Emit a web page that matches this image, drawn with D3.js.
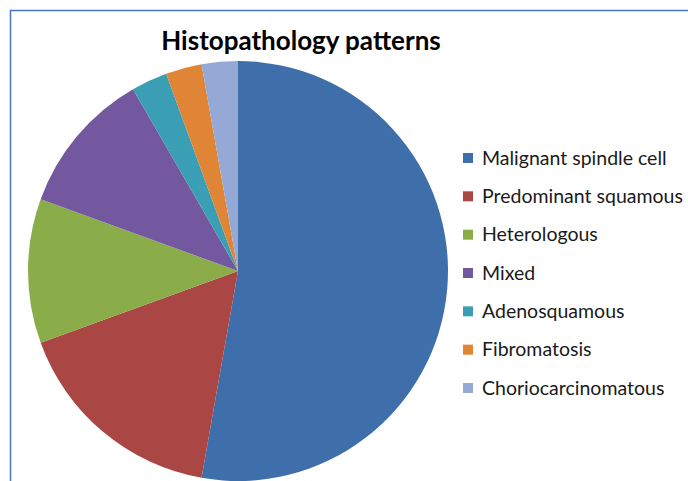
<!DOCTYPE html>
<html>
<head>
<meta charset="utf-8">
<script src="https://cdn.jsdelivr.net/npm/d3@7"></script>
<style>
  body { margin: 0; background: #fff; }
  svg { display: block; }
</style>
</head>
<body>
<div id="chart"></div>
<script>
// chart data (case counts)
var categories = ["Malignant spindle cell", "Predominant squamous", "Heterologous",
  "Mixed", "Adenosquamous", "Fibromatosis", "Choriocarcinomatous"];
var counts = [19, 6, 4, 4, 1, 1, 1];
var colors = ["#3F6FAA", "#AA4644", "#8AAD4A", "#73579F", "#3A9EB5", "#E08436", "#94A9D6"];

var svgWidth = 688;
var svgHeight = 481;

var svg = d3.select("#chart")
  .append("svg")
  .attr("width", svgWidth)
  .attr("height", svgHeight);

// outer frame, only top and left edges show in the crop
svg.append("path")
  .attr("d", "M10.5," + svgHeight + " V10.5 H" + svgWidth)
  .attr("fill", "none")
  .attr("stroke", "#4A74C4")
  .attr("stroke-width", 1.5);

// title
svg.append("text")
  .attr("x", 301)
  .attr("y", 50)
  .attr("text-anchor", "middle")
  .attr("font-family", "Lato, 'Open Sans', sans-serif")
  .attr("font-weight", "bold")
  .attr("font-size", "26px")
  .attr("fill", "#000")
  .text("Histopathology patterns");

// pie
var radius = 210;
var pieGroup = svg.append("g")
  .attr("transform", "translate(238, 271)");

var pie = d3.pie().sort(null).value(d => d);
var arc = d3.arc().innerRadius(0).outerRadius(radius);

var color = d3.scaleOrdinal().domain(categories).range(colors);

pieGroup.selectAll("path")
  .data(pie(counts))
  .enter()
  .append("path")
  .attr("d", arc)
  .attr("fill", (d, i) => color(categories[i]));

// legend
var legendY = d3.scalePoint()
  .domain(categories)
  .range([158, 388]);

var legend = svg.append("g").selectAll("g")
  .data(categories)
  .enter()
  .append("g")
  .attr("transform", d => "translate(463," + legendY(d) + ")");

legend.append("rect")
  .attr("x", 0)
  .attr("y", -5)
  .attr("width", 10)
  .attr("height", 10)
  .attr("fill", d => color(d));

legend.append("text")
  .attr("x", 19)
  .attr("y", 0)
  .attr("dy", "0.35em")
  .attr("font-family", "Lato, 'Open Sans', sans-serif")
  .attr("font-size", "19.5px")
  .attr("fill", "#1a1a1a")
  .text(d => d);
</script>
</body>
</html>
